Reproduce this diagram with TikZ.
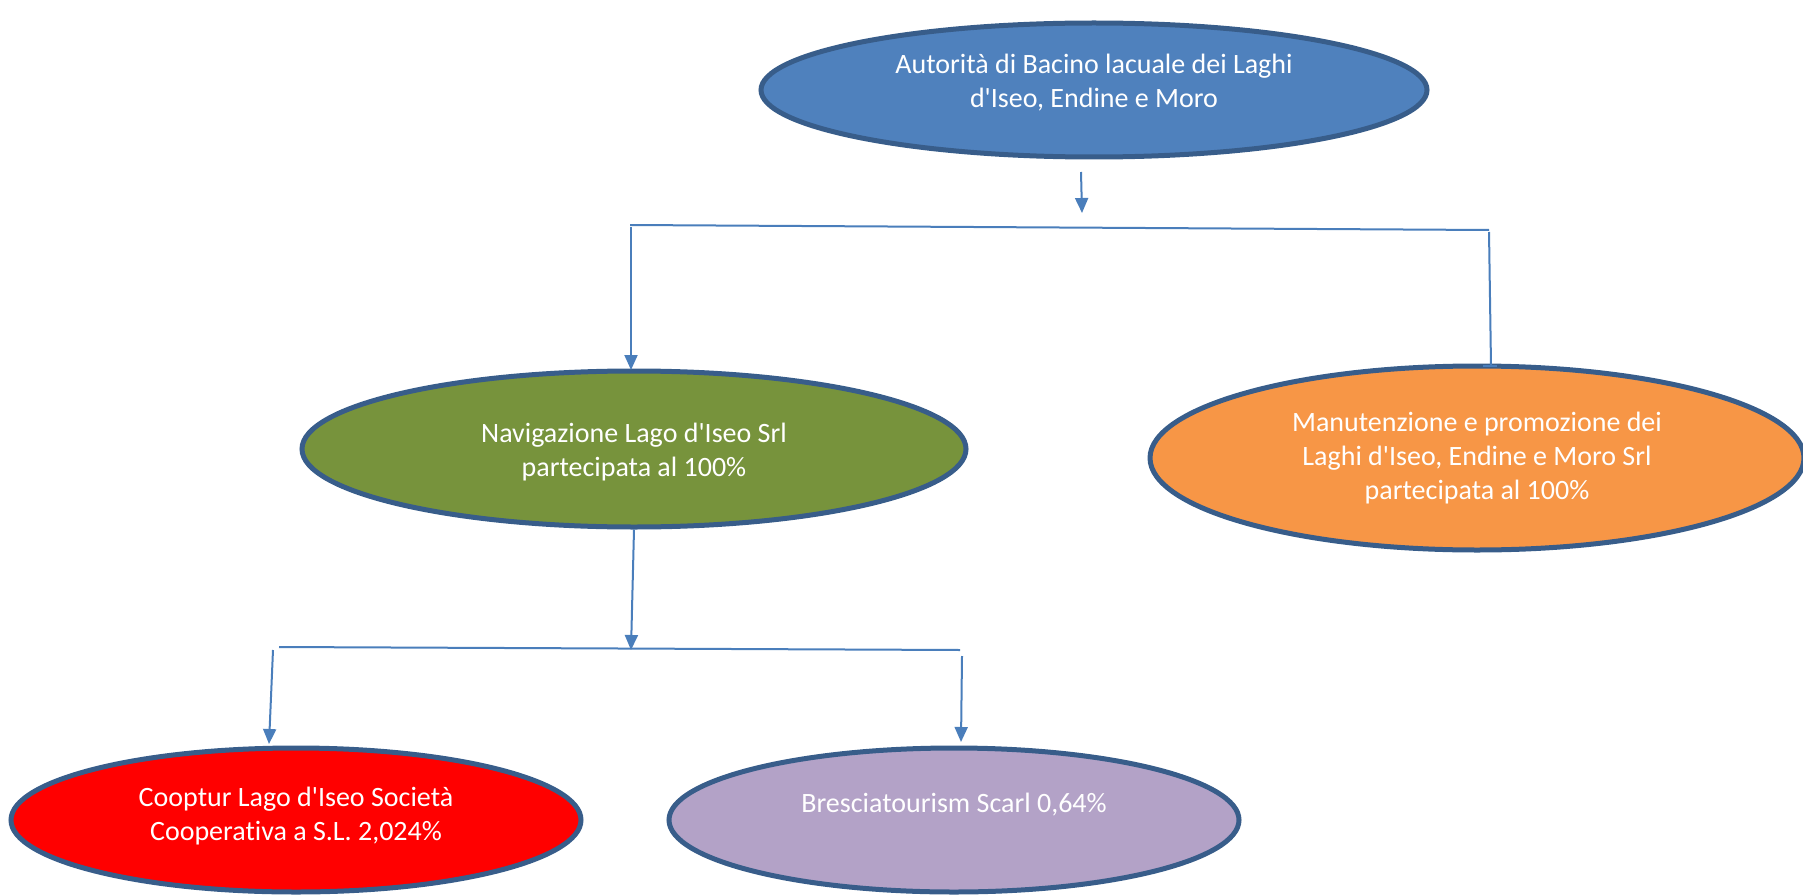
\documentclass[tikz,border=0pt]{standalone}
\usepackage{fontspec}
\setmainfont{Carlito}[Ligatures={TeXOff,NoCommon}]
\usetikzlibrary{arrows.meta,shapes.geometric}
\definecolor{edge}{HTML}{385D8A}
\definecolor{conn}{HTML}{4A7EBB}
\definecolor{cblue}{HTML}{4F81BD}
\definecolor{cgreen}{HTML}{77933C}
\definecolor{corange}{HTML}{F79646}
\definecolor{cred}{HTML}{FF0000}
\definecolor{cpurple}{HTML}{B3A2C7}
\tikzset{
  ell/.style={ellipse, draw=edge, line width=5pt, inner sep=0pt},
  txt/.style={text=white, align=center, font=\fontsize{28}{34}\selectfont, inner sep=0pt},
  conline/.style={draw=conn, line width=2pt},
  conarrow/.style={conline, -{Triangle[width=13pt,length=15pt]}}
}
\begin{document}
\begin{tikzpicture}[x=1pt,y=-1pt]
\useasboundingbox (0,0) rectangle (1803,896);
% ellipses
\node[ell, fill=cblue, minimum width=666pt, minimum height=134pt] (top) at (1094,90) {};
\node[ell, fill=cgreen, minimum width=664pt, minimum height=156pt] (nav) at (634,449) {};
\node[ell, fill=corange, minimum width=654pt, minimum height=184pt] (man) at (1477,458) {};
\node[ell, fill=cred, minimum width=570pt, minimum height=144pt] (coop) at (296,820) {};
\node[ell, fill=cpurple, minimum width=570pt, minimum height=144pt] (bre) at (954,820) {};
% texts
\node[txt] (ttop) at (1094,83) {Autorità di Bacino lacuale dei Laghi\\d'Iseo, Endine e Moro};
\node[txt] (tnav) at (634,452) {Navigazione Lago d'Iseo Srl\\partecipata al 100\%};
\node[txt] (tman) at (1477,458) {Manutenzione e promozione dei\\Laghi d'Iseo, Endine e Moro Srl\\partecipata al 100\%};
\node[txt] (tcoop) at (296,816) {Cooptur Lago d'Iseo Società\\Cooperativa a S.L. 2,024\%};
\node[txt] (tbre) at (954,805) {Bresciatourism Scarl 0,64\%};
% connector coordinates
\coordinate (a1) at (1081,172);
\coordinate (a2) at (1082,213);
\coordinate (b1) at (630,225);
\coordinate (b2) at (1489,230);
\coordinate (bl) at (631,227);
\coordinate (br) at (1489,232);
\coordinate (brend) at (1491,366);
\coordinate (c2) at (631,650);
\coordinate (d1) at (279,647);
\coordinate (d2) at (960,650);
\coordinate (dl) at (273,650);
\coordinate (dr) at (962,656);
% connectors
\draw[conarrow] (a1) -- (a2);
\draw[conline] (b1) -- (b2);
\draw[conarrow] (bl) -- (631,370);
\draw[conline] (br) -- (brend);
\draw[conline] (1483,366) -- (1497,366);
\draw[conarrow] (nav.south) -- (c2);
\draw[conline] (d1) -- (d2);
\draw[conarrow] (dl) -- (269,744);
\draw[conarrow] (dr) -- (961,742);
\end{tikzpicture}
\end{document}
